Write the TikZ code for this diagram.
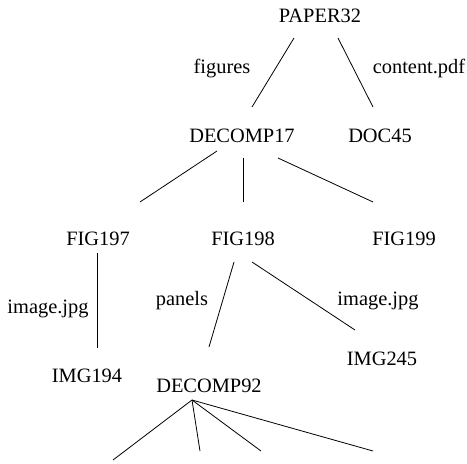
\documentclass[tikz,border=0pt]{standalone}
\usepackage{fontspec}
\setmainfont{Liberation Serif}
\newfontfamily\treefont{Liberation Serif}
\usepackage{tikz}

\tikzset{
  dir/.style={anchor=base, inner sep=0pt, font=\treefont\fontsize{20.4}{24}\selectfont},
  lnk/.style={anchor=base, inner sep=0pt, font=\treefont\fontsize{20.4}{24}\selectfont},
  edge/.style={line width=0.8pt}
}

\begin{document}
\begin{tikzpicture}[x=1pt, y=-1pt]
\useasboundingbox (0,0) rectangle (467,464);

%% vertices
\node[dir] (paper32)  at (320,22)  {PAPER32};
\node[dir] (decomp17) at (242,142) {DECOMP17};
\node[dir] (doc45)    at (380,142) {DOC45};
\node[dir] (fig197)   at (98,245)  {FIG197};
\node[dir] (fig198)   at (243,245) {FIG198};
\node[dir] (fig199)   at (404,245) {FIG199};
\node[dir] (img194)   at (87,382)  {IMG194};
\node[dir] (img245)   at (382,365) {IMG245};
\node[dir] (decomp92) at (209,392) {DECOMP92};

%% free ends
\coordinate (leafa) at (113,460);
\coordinate (leafb) at (200,451);
\coordinate (leafc) at (261,451);
\coordinate (leafd) at (373,451);

%% edge labels
\node[lnk] (figures) at (222,73)  {figures};
\node[lnk] (content) at (419,73)  {content.pdf};
\node[lnk] (imgl)    at (48,313)  {image.jpg};
\node[lnk] (panels)  at (182,305) {panels};
\node[lnk] (imgr)    at (378,305) {image.jpg};

%%% edges
\draw[edge] ([shift={(-26,16)}]paper32.base) -- ([shift={(10,-35)}]decomp17.base);  %% figures
\draw[edge] ([shift={(18,16)}]paper32.base)  -- ([shift={(-7,-35)}]doc45.base);     %% content.pdf
\draw[edge] ([shift={(-25,9)}]decomp17.base) -- ([shift={(42,-43)}]fig197.base);
\draw[edge] ([shift={(1,16)}]decomp17.base)  -- ([shift={(0,-43)}]fig198.base);
\draw[edge] ([shift={(36,16)}]decomp17.base) -- ([shift={(-31,-43)}]fig199.base);
\draw[edge] ([shift={(-1,8)}]fig197.base)    -- ([shift={(10,-34)}]img194.base);    %% image.jpg
\draw[edge] ([shift={(-9,17)}]fig198.base)   -- ([shift={(0,-45)}]decomp92.base);   %% panels
\draw[edge] ([shift={(9,17)}]fig198.base)    -- ([shift={(-27,-35)}]img245.base);   %% image.jpg
\draw[edge] ([shift={(-17,8)}]decomp92.base) -- (leafa);
\draw[edge] ([shift={(-17,8)}]decomp92.base) -- (leafb);
\draw[edge] ([shift={(-17,8)}]decomp92.base) -- (leafc);
\draw[edge] ([shift={(-17,8)}]decomp92.base) -- (leafd);
\end{tikzpicture}
\end{document}
